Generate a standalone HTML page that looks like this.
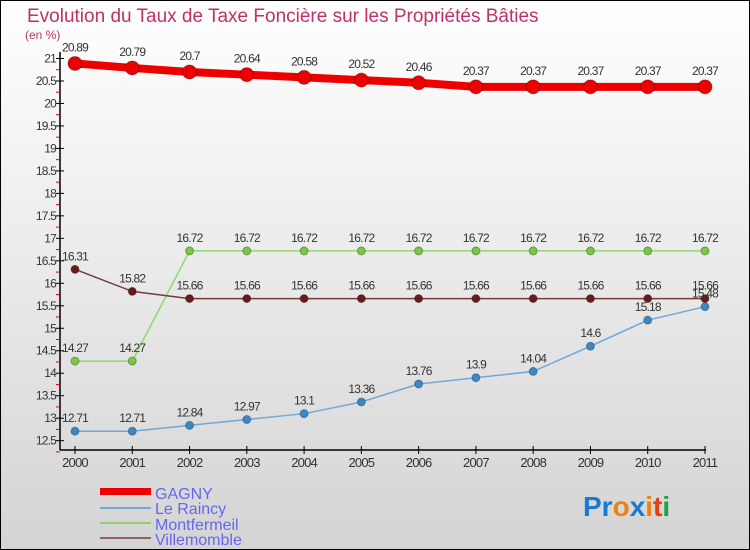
<!DOCTYPE html>
<html><head><meta charset="utf-8"><style>
body{margin:0}
#c{width:750px;height:550px;position:relative;overflow:hidden}
svg text{font-family:"Liberation Sans",sans-serif}
</style></head><body>
<div id="c">
<svg id="s" width="750" height="550" xmlns="http://www.w3.org/2000/svg">
<defs><linearGradient id="bg" x1="0" y1="0" x2="0" y2="1"><stop offset="0" stop-color="#ffffff"/><stop offset="1" stop-color="#d4d4d4"/></linearGradient></defs>
<rect x="0.5" y="0.5" width="749" height="549" fill="url(#bg)" stroke="#000"/>
<text x="27" y="22" font-size="19" fill="#c0306a">Evolution du Taux de Taxe Foncière sur les Propriétés Bâties</text>
<text x="25" y="39" font-size="12" fill="#c0306a">(en %)</text>
<g id="axes"></g>
<g id="series"></g>
<g>
<rect x="100" y="488" width="51" height="7" fill="#ee0000"/>
<text x="155" y="499" font-size="16" fill="#6666ee">GAGNY</text>
<rect x="100" y="507" width="51" height="2" fill="#70a8d0"/>
<text x="155" y="514" font-size="16" fill="#6666ee">Le Raincy</text>
<rect x="100" y="522" width="51" height="2" fill="#90d070"/>
<text x="155" y="530" font-size="16" fill="#6666ee">Montfermeil</text>
<rect x="100" y="537" width="51" height="2" fill="#906060"/>
<text x="155" y="545" font-size="16" fill="#6666ee">Villemomble</text>
</g>
<text x="583" y="516" font-size="28" font-weight="bold"><tspan fill="#1a7ad0">Pr</tspan><tspan fill="#f08010">o</tspan><tspan fill="#1a7ad0">x</tspan><tspan fill="#f08010">i</tspan><tspan fill="#e04010">t</tspan><tspan fill="#20a040">i</tspan></text>
</svg>
</div>
<script>
const years=[2000,2001,2002,2003,2004,2005,2006,2007,2008,2009,2010,2011];
const gagny=[20.89,20.79,20.7,20.64,20.58,20.52,20.46,20.37,20.37,20.37,20.37,20.37];
const leRaincy=[12.71,12.71,12.84,12.97,13.1,13.36,13.76,13.9,14.04,14.6,15.18,15.48];
const montfermeil=[14.27,14.27,16.72,16.72,16.72,16.72,16.72,16.72,16.72,16.72,16.72,16.72];
const villemomble=[16.31,15.82,15.66,15.66,15.66,15.66,15.66,15.66,15.66,15.66,15.66,15.66];
const yTicks=[12.5,13,13.5,14,14.5,15,15.5,16,16.5,17,17.5,18,18.5,19,19.5,20,20.5,21];
const NS="http://www.w3.org/2000/svg";
const X=i=>75+i*(705-75)/(years.length-1);
const Y=v=>58.5+(21-v)*44.96;
function mk(tag,attrs,parent,txt){const e=document.createElementNS(NS,tag);for(const k in attrs)e.setAttribute(k,attrs[k]);if(txt!==undefined)e.textContent=txt;parent.appendChild(e);return e;}
const ax=document.getElementById('axes');
let e=mk('line',{x1:60,y1:52,x2:60,y2:450,stroke:'#000','stroke-width':1.5},ax);


e=mk('line',{x1:60,y1:450,x2:706,y2:450,stroke:'#000','stroke-width':1.5},ax);


yTicks.forEach(v=>{
 mk('line',{x1:56,y1:Y(v),x2:64,y2:Y(v),stroke:'#000'},ax);
 mk('line',{x1:56,y1:Y(v-0.25),x2:60,y2:Y(v-0.25),stroke:'#e00000'},ax);
 const t=mk('text',{x:56,y:Y(v)+4,'font-size':12,fill:'#333','text-anchor':'end','letter-spacing':'-0.8'},ax,String(v));
 
 
});
years.forEach((yr,i)=>{
 mk('line',{x1:X(i),y1:446,x2:X(i),y2:454,stroke:'#000'},ax);
 const t=mk('text',{x:X(i),y:467,'font-size':13,fill:'#333','text-anchor':'middle','letter-spacing':'-0.8'},ax,String(yr));
 
 
});
const sg=document.getElementById('series');
function series(vals,color,dot,lw,r,name){
 const g=mk('g',{},sg);
 
 
 const p=mk('polyline',{points:vals.map((v,i)=>X(i)+','+Y(v)).join(' '),fill:'none',stroke:color,'stroke-width':lw},g);
 
 
 vals.forEach((v,i)=>{
  const c=mk('circle',{cx:X(i),cy:Y(v),r:r,fill:dot,stroke:'rgba(0,0,0,0.3)','stroke-width':1},g);
  
  
  const t=mk('text',{x:X(i),y:Y(v)-r-5,'font-size':12,fill:'#333','text-anchor':'middle','letter-spacing':'-0.8'},g,String(v));
  
  
 });
}
series(montfermeil,'#90d870','#78c840',1.5,4,'montfermeil');
series(villemomble,'#7a3a3a','#6a1a1a',1.5,4,'villemomble');
series(leRaincy,'#70a8d8','#3a88c8',1.5,4,'le-raincy');
series(gagny,'#ee0000','#ee0000',8,7,'gagny');
</script>
</body></html>
